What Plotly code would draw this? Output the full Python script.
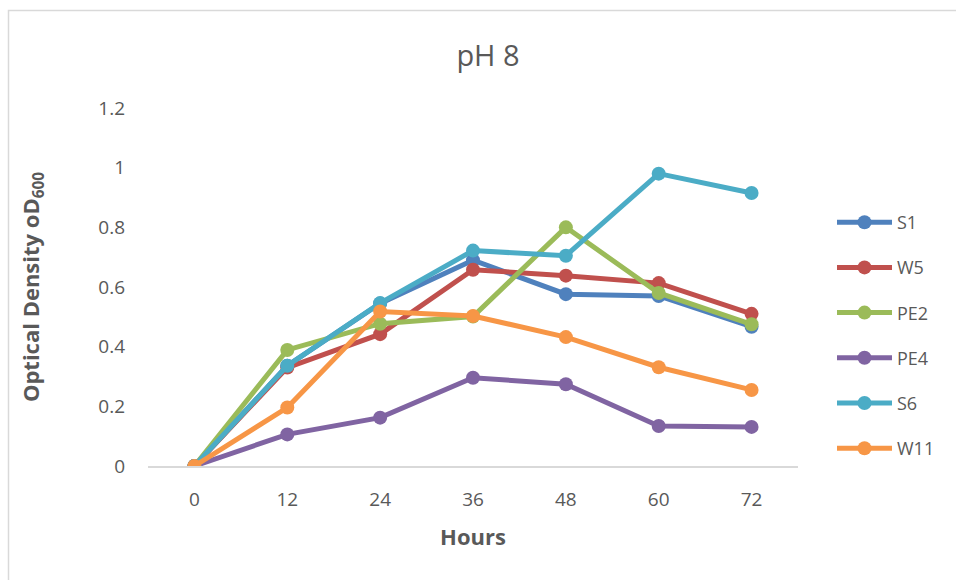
import plotly.graph_objects as go

hours = ["0", "12", "24", "36", "48", "60", "72"]

s1 = [0, 0.336, 0.545, 0.690, 0.576, 0.570, 0.467]
w5 = [0, 0.330, 0.442, 0.658, 0.638, 0.613, 0.510]
pe2 = [0, 0.389, 0.477, 0.501, 0.800, 0.580, 0.475]
pe4 = [0, 0.106, 0.162, 0.296, 0.274, 0.134, 0.131]
s6 = [0, 0.336, 0.546, 0.722, 0.705, 0.980, 0.915]
w11 = [0, 0.196, 0.518, 0.503, 0.432, 0.331, 0.255]

series = [
    ("S1", s1, "#4F81BD"),
    ("W5", w5, "#C0504D"),
    ("PE2", pe2, "#9BBB59"),
    ("PE4", pe4, "#8064A2"),
    ("S6", s6, "#4BACC6"),
    ("W11", w11, "#F79646"),
]

FONT = "Open Sans"
GREY = "#595959"

fig = go.Figure()
for name, vals, col in series:
    fig.add_trace(go.Scatter(
        x=hours, y=vals, name=name, mode="lines+markers",
        line=dict(color=col, width=5),
        marker=dict(color=col, size=14),
        legendgroup=name,
    ))

# plot area in pixels
W, H = 956, 580
L, R, T, B = 148, 158, 108, 114
pw, ph = W - L - R, H - T - B

def px_x(x):
    return (x - L) / pw

def px_y(y):
    return (H - B - y) / ph

fig.update_layout(
    width=W, height=H,
    margin=dict(l=L, r=R, t=T, b=B),
    paper_bgcolor="white", plot_bgcolor="white",
    font=dict(family=FONT, color=GREY, size=19),
    title=dict(text="pH 8", x=488 / W, xanchor="center",
               y=1 - 56 / H, yanchor="middle",
               font=dict(size=29, color=GREY, family=FONT)),
    showlegend=True,
    legend=dict(x=px_x(832), xanchor="left", y=px_y(204), yanchor="top",
                font=dict(size=18, color=GREY, family=FONT),
                tracegroupgap=18.8, itemwidth=55,
                bgcolor="rgba(0,0,0,0)"),
    xaxis=dict(
        type="category", range=[-0.5, 6.5],
        showgrid=False, zeroline=False,
        showline=True, linecolor="#D9D9D9", linewidth=1.5,
        ticks="", ticklabelstandoff=15,
        tickfont=dict(size=19, color=GREY, family=FONT),
        title=dict(text="<b>Hours</b>", standoff=19,
                   font=dict(size=22, color=GREY, family=FONT)),
    ),
    yaxis=dict(
        range=[0, 1.2], tickvals=[0, 0.2, 0.4, 0.6, 0.8, 1, 1.2],
        ticktext=["0", "0.2", "0.4", "0.6", "0.8", "1", "1.2"],
        showgrid=False, zeroline=False, showline=False,
        ticks="", ticklabelstandoff=22,
        tickfont=dict(size=19, color=GREY, family=FONT),
        title=dict(text="<b>Optical Density oD<sub>600</sub></b>", standoff=52,
                   font=dict(size=22, color=GREY, family=FONT)),
    ),
    shapes=[dict(
        type="rect", xref="paper", yref="paper",
        x0=px_x(8.5), x1=px_x(W + 10), y0=px_y(H + 10), y1=px_y(10.5),
        line=dict(color="#D9D9D9", width=1.5), fillcolor="rgba(0,0,0,0)",
        layer="below",
    )],
)

fig.write_html("out.html")
